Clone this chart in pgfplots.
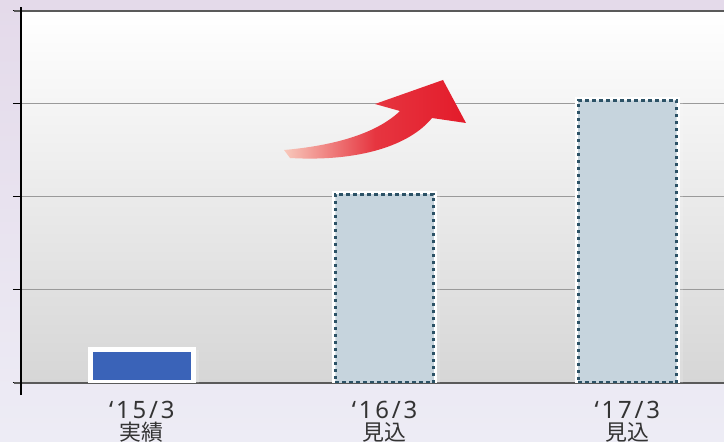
\documentclass[border=0pt]{standalone}
\usepackage{pgfplots}
\pgfplotsset{compat=1.18}
\usepackage{fontspec}
\newfontfamily\jp{Noto Sans CJK JP}
\newfontfamily\lat[LetterSpace=12]{Noto Sans}
\definecolor{bgtop}{HTML}{E4DAEA}
\definecolor{bgbot}{HTML}{EDECF5}
\definecolor{plotbot}{HTML}{D6D6D6}
\definecolor{barblue}{HTML}{3A63B8}
\definecolor{barlight}{HTML}{C6D4DD}
\definecolor{dotcol}{HTML}{2C5266}
\definecolor{arrowred}{HTML}{E31B2A}
\definecolor{arrowpale}{HTML}{F8C9BC}
\definecolor{labcol}{HTML}{333333}
\definecolor{gridcol}{HTML}{9A9A9A}
\definecolor{baseline}{HTML}{5A5A5A}
\newcommand\lab[2]{{\lat\fontsize{24}{24}\selectfont ‘#1}\\{\jp\fontsize{22}{22}\selectfont #2}}
\begin{document}
\begin{tikzpicture}
\shade[top color=bgtop, bottom color=bgbot] (0,0) rectangle (724bp,442bp);
\begin{axis}[
  at={(21bp,59bp)}, anchor=south west,
  scale only axis, width=703bp, height=372bp,
  xmin=-0.498, xmax=2.398, ymin=0, ymax=4,
  axis x line=box, axis y line=left,
  x axis line style={draw=baseline, line width=2bp, shorten <=-7bp},
  y axis line style={-, draw=black, line width=1.3bp, shorten <=-12bp, shorten >=-4bp},
  axis background/.style={shade, top color=white, bottom color=plotbot},
  ytick={0,1,2,3,4}, yticklabels={},
  ytick style={draw=black, line width=1bp},
  tick align=outside, major tick length=8bp,
  ymajorgrids, grid style={draw=gridcol, line width=1bp},
  xtick={0,1,2},
  xtick style={draw=none},
  xticklabels={{\lab{15/3}{実績}},{\lab{16/3}{見込}},{\lab{17/3}{見込}}},
  xticklabel style={align=center, font=\jp\fontsize{22}{22}\selectfont, text=labcol, yshift=-10bp, inner sep=0pt},
]
\addplot[ybar, bar width=0.424, bar shift=0pt, fill=barblue, draw=white, line width=5bp,
  preaction={fill=black, opacity=0.15, transform canvas={xshift=3bp, yshift=-3bp}}]
  coordinates {(0,0.36)};
\addplot[ybar, bar width=0.405, bar shift=0pt, fill=barlight, draw=white, line width=7bp,
  preaction={fill=black, opacity=0.15, transform canvas={xshift=3bp, yshift=-3bp}},
  postaction={draw=dotcol, line width=3bp, dash pattern=on 3.5bp off 3.5bp}]
  coordinates {(1,2.03) (2,3.04)};
\end{axis}
\begin{scope}[x=1bp, y=1bp]
\shade[left color=arrowpale, right color=arrowred, middle color=arrowred!85!arrowpale]
  (284,292) .. controls (330,296) and (375,307) .. (400,331)
  -- (375,338) -- (443,362) -- (466,319) -- (432,324)
  .. controls (410,297) and (360,280) .. (290,284) -- cycle;
\end{scope}
\pgfresetboundingbox
\path[use as bounding box] (0,0) rectangle (724bp,442bp);
\end{tikzpicture}
\end{document}
